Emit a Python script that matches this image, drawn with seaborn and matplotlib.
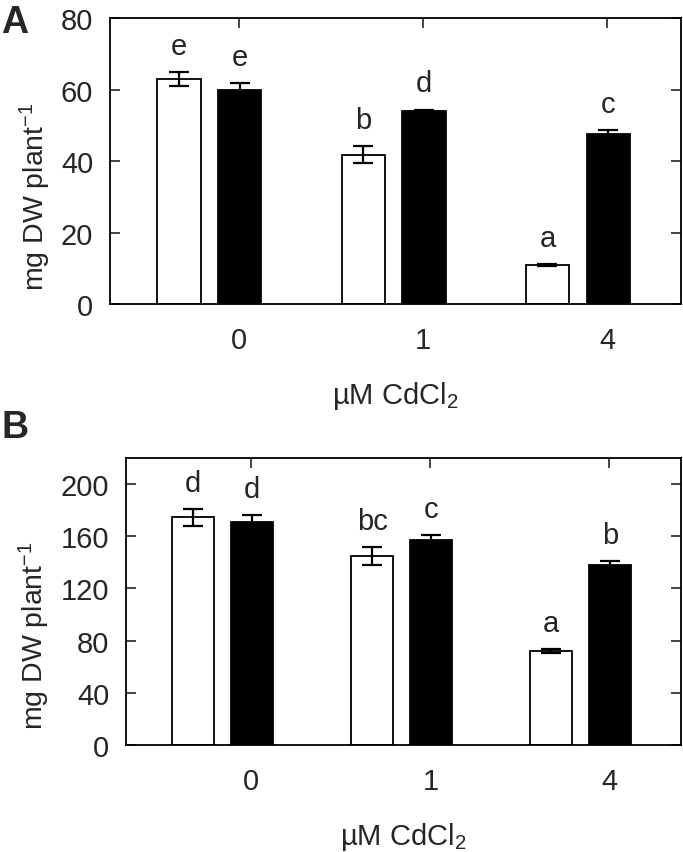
import numpy as np
import pandas as pd
import matplotlib
matplotlib.use("Agg")
import matplotlib.pyplot as plt
import seaborn as sns

# data
conc_levels = ["0", "1", "4"]
treatments = ["control", "treated"]

shoot_ctrl = [63.0, 41.8, 10.9]
shoot_trt = [60.0, 54.1, 47.6]
shoot_ctrl_err = [2.0, 2.4, 0.3]
shoot_trt_err = [1.8, 0.3, 1.2]
shoot_letters_ctrl = ["e", "b", "a"]
shoot_letters_trt = ["e", "d", "c"]

root_ctrl = [174.6, 144.8, 72.0]
root_trt = [171.2, 157.3, 137.7]
root_ctrl_err = [6.6, 6.7, 1.5]
root_trt_err = [5.0, 3.3, 3.3]
root_letters_ctrl = ["d", "bc", "a"]
root_letters_trt = ["d", "c", "b"]

sns.set_style("ticks")
plt.rcParams["font.family"] = ["Liberation Sans", "DejaVu Sans"]
plt.rcParams["mathtext.fontset"] = "custom"
plt.rcParams["mathtext.rm"] = "Liberation Sans"
plt.rcParams["mathtext.it"] = "Liberation Sans:italic"
plt.rcParams["mathtext.bf"] = "Liberation Sans:bold"

TXT = "#262626"


def make_df(ctrl, trt, ctrl_err, trt_err):
    return pd.DataFrame({
        "conc": conc_levels * 2,
        "treatment": [treatments[0]] * 3 + [treatments[1]] * 3,
        "value": list(ctrl) + list(trt),
        "err": list(ctrl_err) + list(trt_err),
    })


def draw_panel(ax, df, letters, ylim, yticks, ylabel_y, ylabel_x):
    sns.barplot(data=df, x="conc", y="value", hue="treatment",
                order=conc_levels, hue_order=treatments,
                palette=["white", "black"], edgecolor="black", linewidth=1.3,
                width=0.66, gap=0.29, errorbar=None, legend=False, ax=ax)

    bars = [p for p in ax.patches][:6]
    xs = [b.get_x() + b.get_width() / 2 for b in bars]
    tops = [b.get_height() for b in bars]
    ax.errorbar(xs, tops, yerr=df["err"].values, fmt="none", ecolor="black",
                elinewidth=1.6, capsize=7.5, capthick=1.6, zorder=5)
    for x, t, e, lab in zip(xs, tops, df["err"].values, letters):
        ax.annotate(lab, (x, t + e), xytext=(0, 13), textcoords="offset points",
                    ha="center", va="baseline", fontsize=21, color=TXT)

    ax.set_xlim(-0.54, 2.56)
    ax.set_ylim(*ylim)
    ax.set_yticks(yticks)
    ax.set_xticks(np.arange(len(conc_levels)) + 0.16)
    ax.set_xticklabels(conc_levels)
    ax.tick_params(axis="both", direction="in", top=True, right=True,
                   length=7, width=1.2, labelsize=21, labelcolor=TXT)
    ax.tick_params(axis="y", pad=12)
    ax.tick_params(axis="x", pad=16)
    for s in ax.spines.values():
        s.set_visible(True)
        s.set_linewidth(1.3)
        s.set_color("black")
    ax.set_xlabel(r"µM CdCl$_2$", fontsize=21, color=TXT, labelpad=17.5)
    ax.set_ylabel(r"mg DW plant$^{-1}$", fontsize=20.5, color=TXT)
    ax.yaxis.set_label_coords(ylabel_x, ylabel_y)


fig = plt.figure(figsize=(6.83, 8.53), dpi=100)
ax_a = fig.add_axes([0.161, 0.6424, 0.836, 0.3353])
ax_b = fig.add_axes([0.1845, 0.1254, 0.8126, 0.3365])

draw_panel(ax_a, make_df(shoot_ctrl, shoot_trt, shoot_ctrl_err, shoot_trt_err),
           shoot_letters_ctrl + shoot_letters_trt, (0, 80), [0, 20, 40, 60, 80],
           0.38, -0.10)
draw_panel(ax_b, make_df(root_ctrl, root_trt, root_ctrl_err, root_trt_err),
           root_letters_ctrl + root_letters_trt, (0, 220), [0, 40, 80, 120, 160, 200],
           0.383, -0.133)

fig.text(0.002, 1 - 5 / 853, "A", fontsize=27, fontweight="bold", va="top", ha="left")
fig.text(0.002, 1 - 410 / 853, "B", fontsize=27, fontweight="bold", va="top", ha="left")

fig.savefig("out.png", dpi=100)
